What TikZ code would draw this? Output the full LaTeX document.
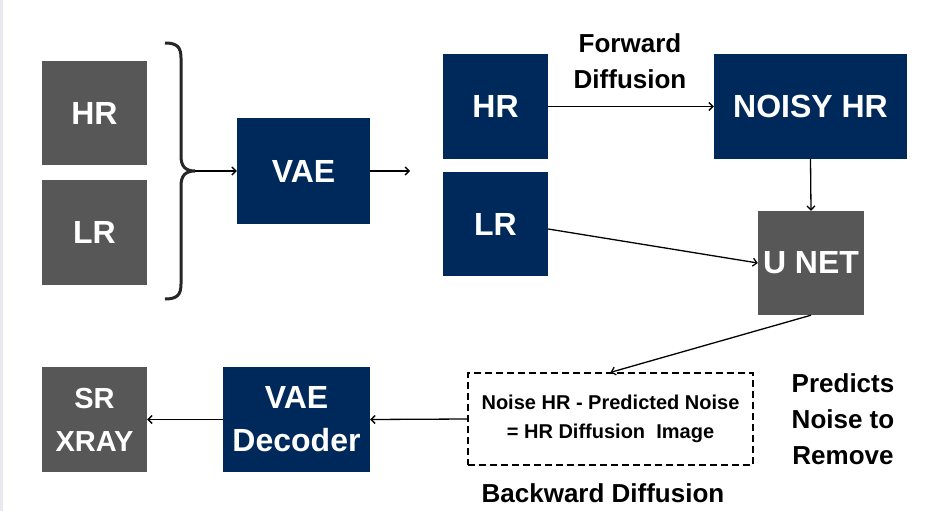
\documentclass[tikz,border=0pt]{standalone}
\usepackage{fontspec}
\setmainfont{Liberation Sans}
\usetikzlibrary{arrows.meta,calc}
\definecolor{navy}{RGB}{0,41,91}
\definecolor{boxgrey}{RGB}{87,87,87}
\definecolor{edgegrey}{RGB}{232,234,240}
\tikzset{
  blk/.style={inner sep=0pt, text=white, font=\bfseries\fontsize{32}{38}\selectfont, align=center},
  navybox/.style={blk, fill=navy},
  greybox/.style={blk, fill=boxgrey},
  lbl/.style={font=\bfseries\fontsize{26}{36}\selectfont, align=center, text=black},
  conn/.style={line width=1.3pt, -{Straight Barb[length=4pt,width=8pt]}}
}
\begin{document}
\begin{tikzpicture}[x=1pt,y=-1pt]
\useasboundingbox (0,0) rectangle (926,511);
\fill[white] (0,0) rectangle (926,511);
\fill[edgegrey] (0,0) rectangle (3,511);
% left inputs
\node[greybox, minimum width=105pt, minimum height=104pt] (hrg) at (94.5,113) {HR};
\node[greybox, minimum width=105pt, minimum height=105pt] (lrg) at (94.5,232.5) {LR};
% brace
\draw[line width=3pt, black!85] (165,43) .. controls (177,43) and (181,47) .. (181,58) -- (181,156)
  .. controls (181,166) and (185,171) .. (195,171)
  .. controls (185,171) and (181,176) .. (181,186) -- (181,284)
  .. controls (181,295) and (177,299) .. (165,299);
\coordinate (bracetip) at (195,171);
\node[navybox, minimum width=133pt, minimum height=106pt] (vae) at (303.5,171) {VAE};
\coordinate (vaeout) at (410,171);
% latent
\node[navybox, minimum width=105pt, minimum height=105pt] (hrb) at (495.5,106.5) {HR};
\node[navybox, minimum width=105pt, minimum height=104pt] (lrb) at (495.5,224) {LR};
\node[navybox, minimum width=193pt, minimum height=105pt] (noisy) at (810.5,106.5) {NOISY HR};
\node[greybox, minimum width=106pt, minimum height=104pt] (unet) at (811,263) {U NET};
\node[lbl] (fwd) at (630,61) {Forward\\Diffusion};
% bottom row
\node[draw=black, dashed, line width=1.3pt, dash pattern=on 7pt off 4pt, minimum width=285pt, minimum height=92pt, inner sep=0pt,
  align=center, font=\bfseries\fontsize{20}{29}\selectfont] (diff) at (610.5,419) {Noise HR - Predicted Noise\\= HR Diffusion\ \ Image};
\node[navybox, minimum width=147pt, minimum height=105pt, font=\bfseries\fontsize{32}{43}\selectfont] (dec) at (296.5,419.5) {VAE\\Decoder};
\node[greybox, minimum width=105pt, minimum height=105pt, font=\bfseries\fontsize{29}{43}\selectfont] (sr) at (94.5,419.5) {SR\\XRAY};
\node[lbl] (pred) at (843,419) {Predicts\\Noise to\\Remove};
\node[lbl] (bwd) at (603,493) {Backward Diffusion};
% connectors
\draw[conn] (bracetip) -- (vae.west);
\draw[conn] (vae.east) -- (vaeout);
\draw[conn] (hrb.east) -- (noisy.west);
\draw[conn] (noisy.south) -- (unet.north);
\draw[conn] ($(lrb.east)+(0,5)$) -- (unet.west);
\draw[conn] (unet.south) -- (diff.north);
\draw[conn] (diff.west) -- (dec.east);
\draw[conn] (dec.west) -- (sr.east);
\end{tikzpicture}
\end{document}
